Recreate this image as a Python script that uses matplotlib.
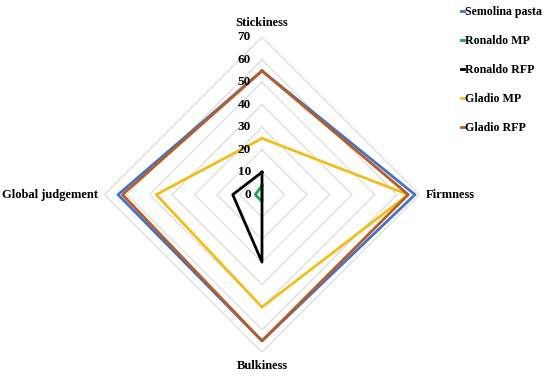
import matplotlib
matplotlib.use("Agg")
import matplotlib.pyplot as plt
import matplotlib.transforms as mtransforms
import numpy as np

categories = ["Stickiness", "Firmness", "Bulkiness", "Global judgement"]
series_names = ["Semolina pasta", "Ronaldo MP", "Ronaldo RFP", "Gladio MP", "Gladio RFP"]
semolina = [55, 68, 65, 64]
ronaldo_mp = [4, 0, 3, 3]
ronaldo_rfp = [10, 0, 30, 13]
gladio_mp = [25, 65, 50, 47]
gladio_rfp = [55, 65, 65, 62]
ticks = [0, 10, 20, 30, 40, 50, 60, 70]

colors = ["#4472C4", "#1E9E5A", "#000000", "#F2BE1A", "#B85C28"]

plt.rcParams["font.family"] = ["Liberation Serif", "DejaVu Serif"]
plt.rcParams["font.weight"] = "bold"

fig = plt.figure(figsize=(5.5, 3.77), dpi=100)
ax = fig.add_axes([0.19, 0.066, 0.5727, 0.8355], projection="polar")
ax.set_theta_zero_location("N")
ax.set_theta_direction(-1)
ax.set_ylim(0, 70)
ax.grid(False)
ax.spines["polar"].set_visible(False)
ax.set_xticks([])
ax.set_yticks([])
ax.patch.set_alpha(0)

angles = np.arange(len(categories)) * 2 * np.pi / len(categories)
ang_closed = np.append(angles, angles[0])

# diamond grid rings
for r in ticks[1:]:
    ax.plot(ang_closed, [r] * 5, color="#D9D9D9", lw=0.8, zorder=1)

all_data = [semolina, ronaldo_mp, ronaldo_rfp, gladio_mp, gladio_rfp]
for name, vals, c in zip(series_names, all_data, colors):
    ax.plot(ang_closed, vals + vals[:1], color=c, lw=2, label=name, zorder=3)

# radial tick labels
off = mtransforms.offset_copy(ax.transData, fig=fig, x=-8, y=0, units="points")
for t in ticks:
    ax.text(0, t, str(t), transform=off, ha="right", va="center",
            fontsize=9.5, fontweight="bold", zorder=4)

# category labels
ax.text(angles[0], 76.5, categories[0], ha="center", va="center", fontsize=9, fontweight="bold")
ax.text(angles[1], 73, categories[1], ha="left", va="center", fontsize=9, fontweight="bold")
ax.text(angles[2], 76, categories[2], ha="center", va="center", fontsize=9, fontweight="bold")
ax.text(angles[3], 73, categories[3], ha="right", va="center", fontsize=9, fontweight="bold")

fig.legend(loc="upper left", bbox_to_anchor=(0.818, 1.012), frameon=False,
           handlelength=0.25, handletextpad=0.1, labelspacing=1.42,
           prop={"family": ["Liberation Serif"], "weight": "bold", "size": 8.6})

fig.savefig("out.png", dpi=100)
